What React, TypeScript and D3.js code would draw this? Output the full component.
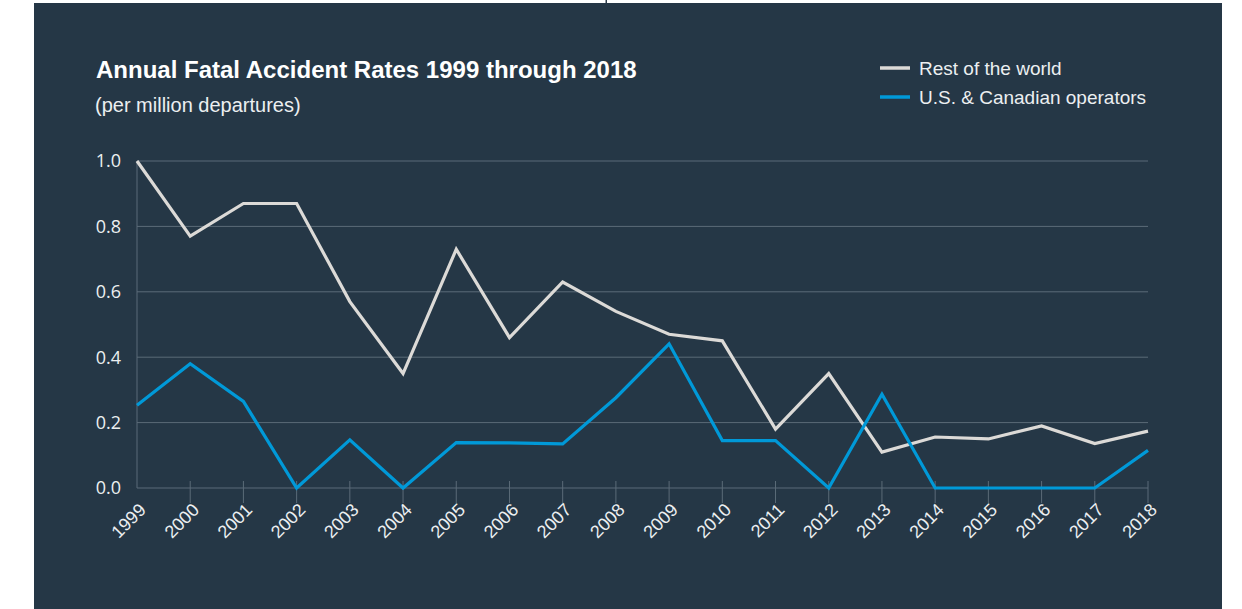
import { useEffect, useRef } from "react";
import * as d3 from "d3";

// ----- Data -----------------------------------------------------------------
const years = [
  "1999", "2000", "2001", "2002", "2003", "2004", "2005", "2006", "2007", "2008",
  "2009", "2010", "2011", "2012", "2013", "2014", "2015", "2016", "2017", "2018",
];
const restOfWorld = [
  1.0, 0.77, 0.87, 0.87, 0.57, 0.35, 0.73, 0.46, 0.63, 0.54,
  0.47, 0.45, 0.18, 0.35, 0.11, 0.156, 0.15, 0.19, 0.136, 0.174,
];
const usCanada = [
  0.253, 0.38, 0.265, 0, 0.147, 0, 0.139, 0.138, 0.135, 0.276,
  0.441, 0.145, 0.145, 0, 0.287, 0, 0, 0, 0, 0.115,
];
const yTicks = [0, 0.2, 0.4, 0.6, 0.8, 1.0];
const seriesNames = ["Rest of the world", "U.S. & Canadian operators"];

const W = 1242;
const H = 609;
const BG = "#253746";
const GREY = "#dcdad7";
const BLUE = "#0099d8";
const GRID = "#5b6b78";
const TEXT = "#eceff1";
const SANS = "'Liberation Sans', Arial, sans-serif";

/**
 * Annual fatal accident rates line chart on a dark panel.
 */
const App = () => {
  const svgRef = useRef<SVGSVGElement | null>(null);

  useEffect(() => {
    const svg = d3.select(svgRef.current);
    svg.selectAll("*").remove();

    // ----- Panel ------------------------------------------------------------
    svg.append("rect").attr("x", 0).attr("y", 0).attr("width", W).attr("height", H).attr("fill", "#fff");
    svg.append("rect").attr("x", 34).attr("y", 3).attr("width", 1188).attr("height", H - 3).attr("fill", BG);
    // stray mark peeking in at the top edge
    svg.append("rect").attr("x", 605.5).attr("y", 0).attr("width", 1.5).attr("height", 3).attr("fill", "#2c3a48");

    // ----- Scales -----------------------------------------------------------
    const x = d3.scalePoint<string>().domain(years).range([137, 1148]);
    const y = d3.scaleLinear().domain([0, 1]).range([488, 161]);

    // ----- Grid / axes ------------------------------------------------------
    const grid = svg.append("g");
    grid
      .selectAll("line.h")
      .data(yTicks)
      .join("line")
      .attr("x1", x(years[0])!)
      .attr("x2", x(years[years.length - 1])!)
      .attr("y1", (d) => y(d))
      .attr("y2", (d) => y(d))
      .attr("stroke", GRID)
      .attr("stroke-width", 1);

    grid
      .append("line")
      .attr("x1", x(years[0])!)
      .attr("x2", x(years[0])!)
      .attr("y1", y(1))
      .attr("y2", y(0))
      .attr("stroke", GRID);

    grid
      .selectAll("line.t")
      .data(years.slice(1))
      .join("line")
      .attr("x1", (d) => x(d)!)
      .attr("x2", (d) => x(d)!)
      .attr("y1", y(0) - 7)
      .attr("y2", y(0) + 15)
      .attr("stroke", GRID);

    svg
      .append("g")
      .selectAll("text")
      .data(yTicks)
      .join("text")
      .attr("x", 121)
      .attr("y", (d) => y(d))
      .attr("dy", "0.35em")
      .attr("text-anchor", "end")
      .attr("font-family", "'Open Sans', sans-serif")
      .attr("font-size", 18)
      .attr("fill", TEXT)
      .text((d) => d3.format(".1f")(d));

    svg
      .append("g")
      .selectAll("text")
      .data(years)
      .join("text")
      .attr("transform", (d) => `translate(${x(d)! + 10},${y(0) + 23}) rotate(-45)`)
      .attr("text-anchor", "end")
      .attr("font-family", SANS)
      .attr("font-size", 18)
      .attr("fill", TEXT)
      .text((d) => d);

    // ----- Lines ------------------------------------------------------------
    const line = d3
      .line<number>()
      .x((_, i) => x(years[i])!)
      .y((d) => y(d));

    svg
      .append("path")
      .datum(restOfWorld)
      .attr("fill", "none")
      .attr("stroke", GREY)
      .attr("stroke-width", 3.2)
      .attr("d", line);

    svg
      .append("path")
      .datum(usCanada)
      .attr("fill", "none")
      .attr("stroke", BLUE)
      .attr("stroke-width", 3.2)
      .attr("d", line);

    // ----- Titles -----------------------------------------------------------
    svg
      .append("text")
      .attr("x", 96)
      .attr("y", 78)
      .attr("font-family", SANS)
      .attr("font-weight", "bold")
      .attr("font-size", 24)
      .attr("fill", "#ffffff")
      .text("Annual Fatal Accident Rates 1999 through 2018");

    svg
      .append("text")
      .attr("x", 95)
      .attr("y", 112)
      .attr("font-family", SANS)
      .attr("font-size", 20)
      .attr("fill", TEXT)
      .text("(per million departures)");

    // ----- Legend -----------------------------------------------------------
    const legend = svg.append("g").attr("transform", "translate(880,68)");
    [GREY, BLUE].forEach((c, i) => {
      legend
        .append("line")
        .attr("x1", 0)
        .attr("x2", 30)
        .attr("y1", i * 29)
        .attr("y2", i * 29)
        .attr("stroke", c)
        .attr("stroke-width", 3.5);
      legend
        .append("text")
        .attr("x", 39)
        .attr("y", i * 29)
        .attr("dy", "0.35em")
        .attr("font-family", SANS)
        .attr("font-size", 19)
        .attr("fill", TEXT)
        .text(seriesNames[i]);
    });
  }, []);

  return (
    <svg
      ref={svgRef}
      width={W}
      height={H}
      style={{ position: "absolute", left: 0, top: 0, display: "block" }}
    />
  );
};

export default App;
